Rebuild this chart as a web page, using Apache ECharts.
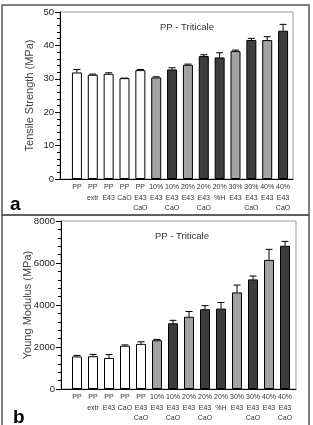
<!DOCTYPE html>
<html>
<head>
<meta charset="utf-8">
<script src="https://cdn.jsdelivr.net/npm/echarts@6/dist/echarts.min.js"></script>
<style>
	html, body { margin: 0; padding: 0; background: #fff; }
	#main { width: 313px; height: 425px; }
</style>
</head>
<body>
<div id="main"></div>
<script>
// categories (x axis labels)
const categories = [
	'PP', 'PP\nextr', 'PP\nE43', 'PP\nCaO', 'PP\nE43\nCaO',
	'10%\nE43', '10%\nE43\nCaO', '20%\nE43', '20%\nE43\nCaO', '20%\n%H',
	'30%\nE43', '30%\nE43\nCaO', '40%\nE43', '40%\nE43\nCaO'
];
// fill kind per bar: w = white, g = grey, d = dark
const barKinds = ['w', 'w', 'w', 'w', 'w', 'g', 'd', 'g', 'd', 'd', 'g', 'd', 'g', 'd'];

// panel a: tensile strength (MPa)
const tensile = [31.9, 31.2, 31.5, 30.2, 32.6, 30.4, 32.8, 34.2, 36.8, 36.4, 38.3, 41.6, 41.6, 44.4];
const tensileErr = [0.9, 0.2, 0.3, 0, 0.2, 0.2, 0.5, 0.2, 0.4, 1.4, 0.3, 0.5, 1.0, 1.9];

// panel b: young modulus (MPa)
const young = [1550, 1560, 1480, 2060, 2150, 2320, 3130, 3440, 3800, 3830, 4600, 5220, 6150, 6820];
const youngErr = [50, 90, 160, 40, 100, 40, 140, 250, 170, 290, 350, 160, 500, 210];

const fillColors = { w: '#ffffff', g: '#a3a3a3', d: '#3d3d3d' };
const font = 'Arial, "Liberation Sans", sans-serif';
const narrow = '"Liberation Sans Narrow", "Arial Narrow", Arial, sans-serif';

const myChart = echarts.init(document.getElementById('main'));

function errorRender(params, api) {
	const p0 = api.coord([api.value(0), api.value(1)]);
	const p1 = api.coord([api.value(0), api.value(1) + api.value(2)]);
	const hw = 3.5;
	const style = { stroke: '#000', lineWidth: 1 };
	return {
		type: 'group',
		children: [
			{ type: 'line', shape: { x1: p0[0], y1: p0[1], x2: p1[0], y2: p1[1] }, style },
			{ type: 'line', shape: { x1: p1[0] - hw, y1: p1[1], x2: p1[0] + hw, y2: p1[1] }, style }
		]
	};
}

function barData(values) {
	return values.map((v, i) => ({
		value: v,
		itemStyle: { color: fillColors[barKinds[i]] }
	}));
}

function visibleY(gridIndex, max, interval, name, nameGap) {
	return {
		gridIndex,
		type: 'value',
		min: 0,
		max,
		interval,
		name,
		nameLocation: 'middle',
		nameGap,
		nameMoveOverlap: false,
		nameTextStyle: { fontFamily: font, fontSize: 11, color: '#444' },
		axisLine: { show: true, lineStyle: { color: '#000', width: 1 } },
		axisTick: { show: true, length: 5, lineStyle: { color: '#000' } },
		minorTick: { show: true, splitNumber: 5, length: 3, lineStyle: { color: '#000' } },
		axisLabel: {
			fontFamily: font, fontSize: 9.5, color: '#222', margin: 6,
			formatter: (v) => String(v)
		},
		splitLine: { show: false }
	};
}

function hiddenY(gridIndex, max) {
	return { gridIndex, type: 'value', min: 0, max, show: false, splitLine: { show: false } };
}

function frameX(gridIndex) {
	return {
		gridIndex,
		type: 'category',
		data: [],
		axisLine: { show: true, lineStyle: { color: '#000', width: 1 } },
		axisTick: { show: false },
		axisLabel: { show: false }
	};
}

function barsX(gridIndex) {
	return {
		gridIndex,
		type: 'category',
		data: categories,
		axisLine: { show: false },
		axisTick: { show: false },
		axisLabel: {
			interval: 0,
			fontFamily: narrow,
			fontSize: 7,
			lineHeight: 10.5,
			color: '#333',
			margin: 3
		}
	};
}

const titleStyle = { fontFamily: font, fontSize: 9.5, fontWeight: 'normal', color: '#333' };

const option = {
	animation: false,
	backgroundColor: '#fff',
	title: [
		{ text: 'PP - Triticale', left: 182, top: 17, textAlign: 'center', textStyle: titleStyle },
		{ text: 'PP - Triticale', left: 177, top: 226, textAlign: 'center', textStyle: titleStyle },
		{ text: 'a', left: 5, top: 190,
			textStyle: { fontFamily: font, fontSize: 19, fontWeight: 'bold', color: '#000' } },
		{ text: 'b', left: 8, top: 403,
			textStyle: { fontFamily: font, fontSize: 19, fontWeight: 'bold', color: '#000' } }
	],
	graphic: [
		{ type: 'rect', shape: { x: 2, y: 5, width: 307, height: 210 },
			style: { fill: 'none', stroke: '#555', lineWidth: 1.5 } },
		{ type: 'rect', shape: { x: 2, y: 215, width: 307, height: 220 },
			style: { fill: 'none', stroke: '#555', lineWidth: 1.5 } }
	],
	grid: [
		// panel a frame and bars
		{ left: 60, right: 20, top: 12, bottom: 246, show: true, borderColor: '#999', borderWidth: 1 },
		{ left: 69, right: 22, top: 12, bottom: 246 },
		// panel b frame and bars
		{ left: 61, right: 17, top: 221, bottom: 36, show: true, borderColor: '#999', borderWidth: 1 },
		{ left: 69, right: 20, top: 221, bottom: 36 }
	],
	xAxis: [frameX(0), barsX(1), frameX(2), barsX(3)],
	yAxis: [
		visibleY(0, 50, 10, 'Tensile Strength (MPa)', 25),
		hiddenY(1, 50),
		visibleY(2, 8000, 2000, 'Young Modulus (MPa)', 28),
		hiddenY(3, 8000)
	],
	series: [
		{
			type: 'bar',
			xAxisIndex: 1,
			yAxisIndex: 1,
			barWidth: 10,
			itemStyle: { borderColor: '#000', borderWidth: 1 },
			data: barData(tensile)
		},
		{
			type: 'custom',
			xAxisIndex: 1,
			yAxisIndex: 1,
			z: 5,
			renderItem: errorRender,
			encode: { x: 0, y: 1 },
			data: tensile.map((v, i) => [i, v, tensileErr[i]])
		},
		{
			type: 'bar',
			xAxisIndex: 3,
			yAxisIndex: 3,
			barWidth: 10,
			itemStyle: { borderColor: '#000', borderWidth: 1 },
			data: barData(young)
		},
		{
			type: 'custom',
			xAxisIndex: 3,
			yAxisIndex: 3,
			z: 5,
			renderItem: errorRender,
			encode: { x: 0, y: 1 },
			data: young.map((v, i) => [i, v, youngErr[i]])
		}
	]
};

myChart.setOption(option);
</script>
</body>
</html>
